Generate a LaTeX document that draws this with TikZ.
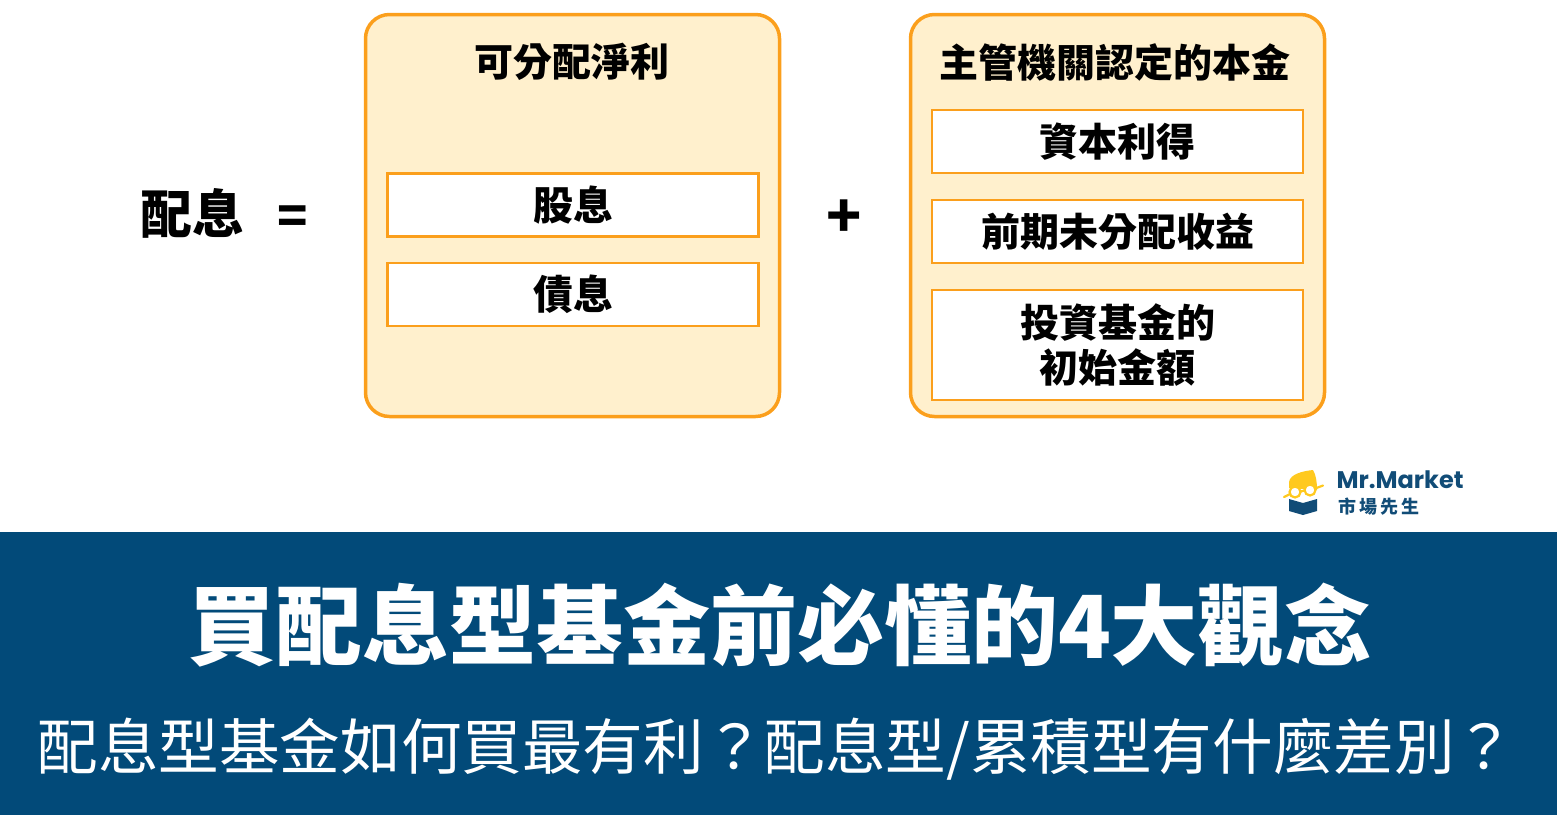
\documentclass[tikz,border=0pt]{standalone}
\usepackage{fontspec}
\usepackage{tikz}
\usetikzlibrary{positioning}
\setmainfont{Noto Sans CJK TC}[BoldFont={Noto Sans CJK TC Black}]
\newfontfamily\logofont{Poppins}
\definecolor{boxline}{HTML}{FB9F1C}
\definecolor{boxfill}{HTML}{FFF0CD}
\definecolor{banner}{HTML}{024A79}
\definecolor{logoblue}{HTML}{114C77}
\definecolor{logoyellow}{HTML}{FFC91F}
\begin{document}
\begin{tikzpicture}[x=1pt,y=-1pt,
  panel/.style={draw=boxline,fill=boxfill,line width=3.5pt,rounded corners=24pt,minimum width=414pt,minimum height=402pt,inner sep=0pt},
  itembox/.style={draw=boxline,fill=white,line width=2.8pt,minimum width=371pt,minimum height=63pt,inner sep=0pt,align=center,font=\fontsize{39}{45.5}\selectfont\bfseries},
  headtext/.style={font=\fontsize{39}{45}\selectfont\bfseries,inner sep=0pt},
  bigtext/.style={font=\fontsize{52}{60}\selectfont\bfseries,inner sep=0pt}]
  \useasboundingbox (0,0) rectangle (1557,815);
  \node[panel] (left) at (572.5,215.5){};
  \node[panel] (right) at (1117.5,215.5){};
  \node[headtext] (lefthead) at (571.5,62){可分配淨利};
  \node[headtext] (righthead) at (1115,62){主管機關認定的本金};
  \node[itembox,font=\fontsize{40}{46}\selectfont\bfseries] (stock) at (573,205){股息};
  \node[itembox,font=\fontsize{40}{46}\selectfont\bfseries] (bond) at (573,294.5){債息};
  \node[itembox] (gain) at (1117.5,141.5){資本利得};
  \node[itembox] (prior) at (1117.5,231.5){前期未分配收益};
  \node[itembox,minimum height=110pt] (init) at (1117.5,345){投資基金的\\初始金額};
  \node[bigtext] (div) at (192,213){配息};
  \node[bigtext,font=\fontsize{50}{56}\selectfont\bfseries] (eq) at (293,220){=};
  \node[bigtext,font=\fontsize{58}{60}\selectfont\bfseries] (plus) at (844,219){+};
  % banner
  \fill[banner] (0,532) rectangle (1557,815);
  \node[inner sep=0pt,text=white,font=\fontsize{87}{100}\selectfont\bfseries] (title) at (780,625){買配息型基金前必懂的4大觀念};
  \node[inner sep=0pt,text=white,font=\fontsize{60.6}{70}\selectfont] (sub) at (776.5,749){配息型基金如何買最有利？配息型/累積型有什麼差別？};
  % logo
  \fill[logoyellow] (1289,482) .. controls (1290,474) and (1303,471) .. (1313,470) .. controls (1316,475) and (1317,482) .. (1317,490) -- (1289,488) -- cycle;
  \fill[logoblue] (1289,499) -- (1303,503) -- (1317,499) -- (1317,511) -- (1303,515) -- (1289,511) -- cycle;
  \draw[logoyellow,line width=2.2pt,line cap=round] (1284,497) -- (1290,494);
  \draw[logoyellow,line width=2.2pt,fill=white] (1295,492) circle (5.5);
  \draw[logoyellow,line width=2.2pt] (1300.5,491.5) -- (1304.5,490.5);
  \draw[logoyellow,line width=2.2pt,fill=white] (1310,490) circle (5.5);
  \draw[logoyellow,line width=2.2pt,line cap=round] (1315,488.5) -- (1323,485.5);
  \node[inner sep=0pt,text=logoblue,font=\fontsize{24}{26}\selectfont\logofont\bfseries] (brand) at (1400,480){Mr.Market};
  \node[inner sep=0pt,text=logoblue,font=\fontsize{18}{20}\selectfont\bfseries,anchor=west] (brandzh) at (1338,507){市\,場\,先\,生};
\end{tikzpicture}
\end{document}
